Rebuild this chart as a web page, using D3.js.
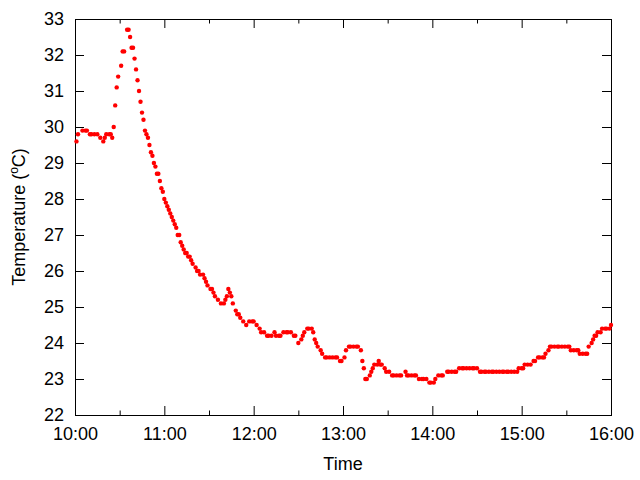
<!DOCTYPE html>
<html><head><meta charset="utf-8">
<script src="https://cdn.jsdelivr.net/npm/d3@7"></script>
<style>body{margin:0;background:#fff}svg{display:block}</style>
</head><body>
<svg id="chart" width="640" height="480"></svg>
<script>
// ---- data ----
const times = [
  "10:01","10:02","10:05","10:07","10:08","10:10","10:11","10:13","10:15","10:17",
  "10:19","10:20","10:21","10:23","10:24","10:25","10:26","10:27","10:28","10:29",
  "10:31","10:32","10:33","10:35","10:36","10:37","10:38","10:39","10:40","10:41",
  "10:42","10:43","10:44","10:45","10:46","10:47","10:48","10:49","10:50","10:51",
  "10:52","10:53","10:54","10:55","10:56","10:57","10:58","10:59","11:00","11:01",
  "11:02","11:03","11:04","11:05","11:06","11:07","11:08","11:09","11:10","11:11",
  "11:12","11:13","11:14","11:15","11:16","11:17","11:18","11:19","11:21","11:22",
  "11:23","11:24","11:26","11:27","11:28","11:29","11:31","11:32","11:33","11:34",
  "11:36","11:38","11:40","11:41","11:42","11:43","11:44","11:45","11:46","11:48",
  "11:49","11:50","11:51","11:53","11:55","11:57","11:59","12:00","12:02","12:04",
  "12:05","12:07","12:09","12:10","12:12","12:14","12:15","12:17","12:18","12:20",
  "12:22","12:23","12:25","12:27","12:28","12:30","12:32","12:33","12:34","12:36",
  "12:37","12:39","12:40","12:41","12:42","12:43","12:45","12:46","12:48","12:49",
  "12:51","12:53","12:55","12:56","12:58","12:59","13:01","13:02","13:04","13:05",
  "13:07","13:09","13:10","13:12","13:13","13:14","13:15","13:16","13:18","13:19",
  "13:20","13:21","13:23","13:24","13:25","13:26","13:28","13:29","13:31","13:33",
  "13:34","13:36","13:38","13:39","13:42","13:43","13:44","13:46","13:48","13:49",
  "13:51","13:53","13:54","13:56","13:58","13:59","14:01","14:02","14:04","14:06",
  "14:07","14:10","14:11","14:13","14:15","14:16","14:18","14:20","14:21","14:23",
  "14:25","14:27","14:28","14:30","14:32","14:33","14:35","14:36","14:38","14:40",
  "14:41","14:43","14:45","14:47","14:48","14:50","14:51","14:53","14:55","14:57",
  "14:58","15:00","15:01","15:02","15:04","15:06","15:08","15:09","15:11","15:12",
  "15:14","15:15","15:16","15:18","15:19","15:20","15:22","15:24","15:25","15:27",
  "15:29","15:31","15:32","15:33","15:35","15:37","15:38","15:39","15:41","15:43",
  "15:44","15:45","15:47","15:48","15:49","15:50","15:51","15:53","15:54","15:56",
  "15:57","15:59","16:00"
];
const temps = [
  29.6,29.8,29.9,29.9,29.9,29.8,29.8,29.8,29.8,29.7,
  29.6,29.7,29.8,29.8,29.8,29.7,30.0,30.6,31.1,31.4,
  31.7,32.1,32.1,32.7,32.7,32.5,32.2,32.2,31.9,31.6,
  31.3,31.0,30.7,30.4,30.2,29.9,29.8,29.7,29.5,29.3,
  29.2,29.0,28.9,28.7,28.7,28.5,28.3,28.2,28.0,27.9,
  27.8,27.7,27.6,27.5,27.4,27.3,27.2,27.0,27.0,26.8,
  26.7,26.6,26.5,26.5,26.4,26.4,26.3,26.2,26.1,26.0,
  26.0,25.9,25.9,25.8,25.7,25.6,25.5,25.5,25.4,25.3,
  25.2,25.1,25.1,25.2,25.3,25.5,25.4,25.3,25.1,24.9,
  24.8,24.8,24.7,24.6,24.5,24.6,24.6,24.6,24.5,24.4,
  24.3,24.3,24.2,24.2,24.2,24.3,24.2,24.2,24.2,24.3,
  24.3,24.3,24.3,24.2,24.2,24.0,24.1,24.2,24.3,24.4,
  24.4,24.4,24.3,24.1,24.0,23.9,23.8,23.7,23.6,23.6,
  23.6,23.6,23.6,23.6,23.5,23.5,23.6,23.8,23.9,23.9,
  23.9,23.9,23.9,23.8,23.5,23.3,23.0,23.0,23.1,23.2,
  23.3,23.4,23.4,23.5,23.4,23.4,23.3,23.2,23.2,23.1,
  23.1,23.1,23.1,23.1,23.2,23.1,23.1,23.1,23.1,23.1,
  23.0,23.0,23.0,23.0,22.9,22.9,22.9,23.0,23.1,23.1,
  23.1,23.2,23.2,23.2,23.2,23.2,23.3,23.3,23.3,23.3,
  23.3,23.3,23.3,23.3,23.2,23.2,23.2,23.2,23.2,23.2,
  23.2,23.2,23.2,23.2,23.2,23.2,23.2,23.2,23.2,23.2,
  23.3,23.3,23.3,23.4,23.4,23.4,23.5,23.5,23.6,23.6,
  23.6,23.6,23.7,23.8,23.9,23.9,23.9,23.9,23.9,23.9,
  23.9,23.9,23.9,23.8,23.8,23.8,23.8,23.7,23.7,23.7,
  23.7,23.9,24.0,24.1,24.2,24.2,24.3,24.3,24.4,24.4,
  24.4,24.4,24.5
];
const xDomain = ["10:00", "16:00"];
const yDomain = [22, 33];
const xTickLabels = ["10:00","11:00","12:00","13:00","14:00","15:00","16:00"];
const yTickValues = [22,23,24,25,26,27,28,29,30,31,32,33];
const xLabel = "Time";
const yLabel = ["Temperature (", "o", "C)"];

// ---- chart ----
const parse = d3.timeParse("%H:%M");
const data = times.map((t, i) => ({ t: parse(t), v: temps[i] }));
const L = 75, R = 611, T = 19, B = 415;
const FONT = "'Liberation Sans', Arial, Helvetica, sans-serif";

const x = d3.scaleTime().domain(xDomain.map(parse)).range([L, R]);
const y = d3.scaleLinear().domain(yDomain).range([B, T]);

const svg = d3.select("#chart");
svg.append("rect").attr("width", 640).attr("height", 480).attr("fill", "#fff");

const majorX = xTickLabels.map(parse);
const minorX = d3.timeMinute.every(30).range(parse("10:00"), parse("16:00")).filter(d => d.getMinutes() === 30);

function styleAxis(g, hideText) {
  g.select(".domain").remove();
  g.selectAll("line").attr("stroke", "#000").attr("stroke-width", 1);
  g.selectAll("text").attr("fill", "#000").style("font-family", FONT).style("font-size", "18px");
  if (hideText) g.selectAll("text").remove();
}

// bottom major
svg.append("g").attr("transform", `translate(0,${B})`)
  .call(d3.axisBottom(x).tickValues(majorX).tickFormat(d3.timeFormat("%H:%M"))
    .tickSizeInner(-9).tickSizeOuter(0).tickPadding(12))
  .call(g => styleAxis(g, false));
// bottom minor
svg.append("g").attr("transform", `translate(0,${B})`)
  .call(d3.axisBottom(x).tickValues(minorX).tickSizeInner(-4.5).tickSizeOuter(0).tickFormat(""))
  .call(g => styleAxis(g, true));
// top major + minor
svg.append("g").attr("transform", `translate(0,${T})`)
  .call(d3.axisTop(x).tickValues(majorX).tickSizeInner(-9).tickSizeOuter(0).tickFormat(""))
  .call(g => styleAxis(g, true));
svg.append("g").attr("transform", `translate(0,${T})`)
  .call(d3.axisTop(x).tickValues(minorX).tickSizeInner(-4.5).tickSizeOuter(0).tickFormat(""))
  .call(g => styleAxis(g, true));
// left
svg.append("g").attr("transform", `translate(${L},0)`)
  .call(d3.axisLeft(y).tickValues(yTickValues).tickFormat(d3.format("d"))
    .tickSizeInner(-9).tickSizeOuter(0).tickPadding(11))
  .call(g => styleAxis(g, false));
// right
svg.append("g").attr("transform", `translate(${R},0)`)
  .call(d3.axisRight(y).tickValues(yTickValues).tickSizeInner(-9).tickSizeOuter(0).tickFormat(""))
  .call(g => styleAxis(g, true));

// frame
svg.append("rect")
  .attr("x", L + 0.5).attr("y", T + 0.5)
  .attr("width", R - L).attr("height", B - T)
  .attr("fill", "none").attr("stroke", "#000").attr("stroke-width", 1);

// axis titles
svg.append("text")
  .attr("x", (L + R) / 2).attr("y", 470)
  .attr("text-anchor", "middle")
  .style("font-family", FONT).style("font-size", "18px")
  .text(xLabel);

const yt = svg.append("text")
  .attr("transform", `translate(25,${(T + B) / 2}) rotate(-90)`)
  .attr("text-anchor", "middle")
  .style("font-family", FONT).style("font-size", "18px");
yt.append("tspan").text(yLabel[0]);
yt.append("tspan").attr("dy", -7).style("font-size", "12px").text(yLabel[1]);
yt.append("tspan").attr("dy", 7).text(yLabel[2]);

// points
svg.append("g").selectAll("circle").data(data).join("circle")
  .attr("cx", d => x(d.t)).attr("cy", d => y(d.v))
  .attr("r", 2.2).attr("fill", "#ff0000");
</script>
</body></html>
